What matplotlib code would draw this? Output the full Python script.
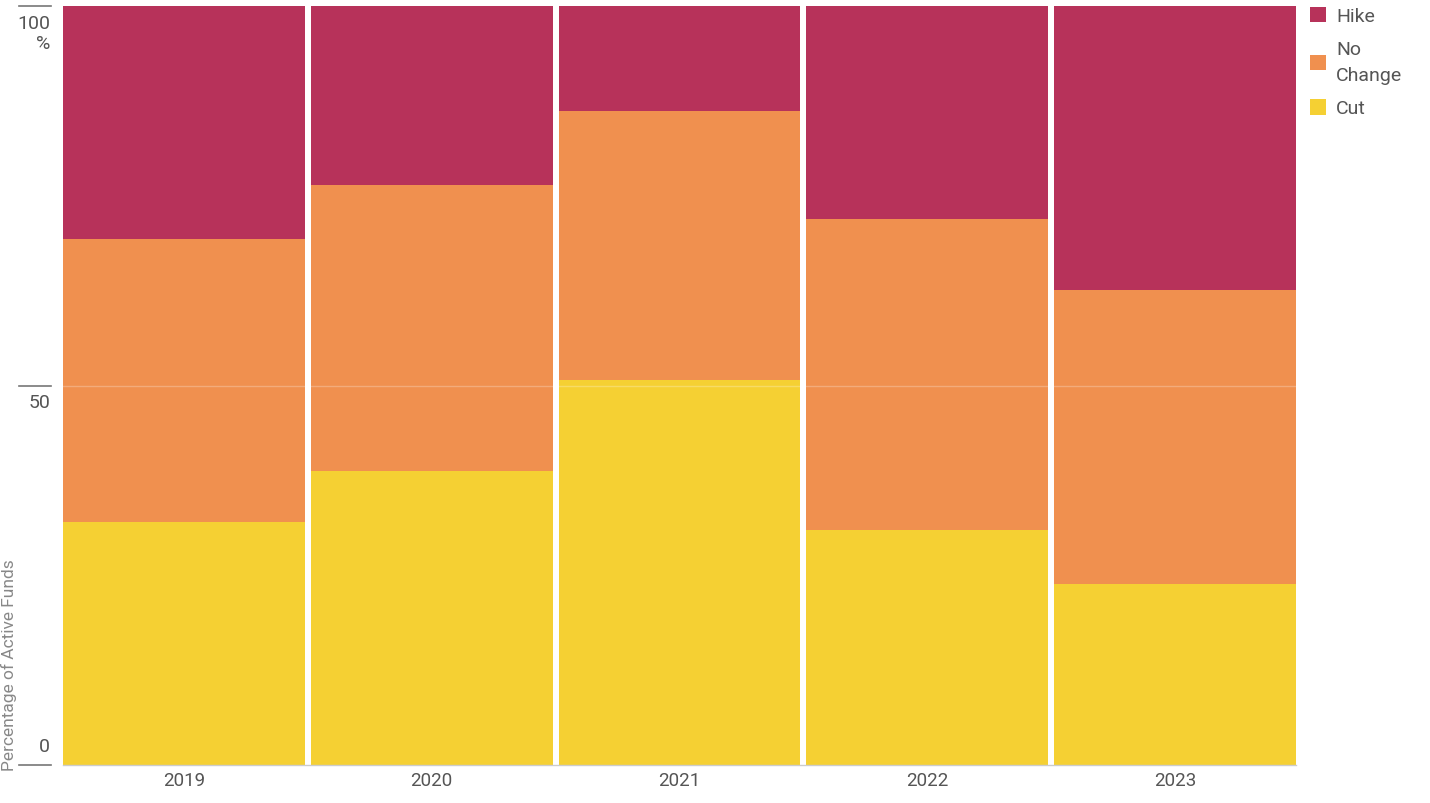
import numpy as np
import matplotlib.pyplot as plt
from matplotlib.transforms import blended_transform_factory

plt.rcParams['font.family'] = ['Roboto', 'DejaVu Sans']

years = ['2019', '2020', '2021', '2022', '2023']
cut = [32.0, 38.7, 50.7, 31.0, 23.8]
no_change = [37.3, 37.7, 35.5, 40.9, 38.8]
hike = [30.7, 23.6, 13.8, 28.1, 37.4]

colors = {'Hike': '#B7325A', 'No\nChange': '#F0904F', 'Cut': '#F5D033'}
text_col = '#555555'

fig = plt.figure(figsize=(14.3, 8.04), dpi=100)
ax = fig.add_axes([63/1430, 1-766/804, (1296-63)/1430, (766-7)/804])

x = np.arange(len(years))
w = 0.976
b1 = ax.bar(x, cut, w, color=colors['Cut'], label='Cut')
b2 = ax.bar(x, no_change, w, bottom=cut, color=colors['No\nChange'], label='No\nChange')
bottom2 = np.array(cut) + np.array(no_change)
b3 = ax.bar(x, hike, w, bottom=bottom2, color=colors['Hike'], label='Hike')

ax.set_xlim(-w/2, len(years) - 1 + w/2)
ax.set_ylim(0, 100)
ax.axhline(50, color='white', alpha=0.25, lw=1, zorder=3)

for s in ['top', 'right', 'left']:
    ax.spines[s].set_visible(False)
ax.spines['bottom'].set_color('#cccccc')
ax.spines['bottom'].set_linewidth(1)

ax.set_xticks(x)
ax.set_xticklabels(years, fontsize=13.5, color=text_col)
ax.tick_params(axis='x', length=0, pad=4)
ax.set_yticks([])

# y ticks drawn as short lines with labels
tr = blended_transform_factory(ax.transAxes, ax.transData)
for v, lab, va, dy in [(100, '100\n%', 'top', -1.0), (50, '50', 'top', -1.0), (0, '0', 'bottom', 1.3)]:
    ax.plot([-0.0357, -0.0097], [v, v], color='#777777', lw=1.2,
            transform=tr, clip_on=False)
    ax.text(-0.0105, v + dy, lab, transform=tr, ha='right', va=va,
            fontsize=14, color=text_col, linespacing=1.2)

fig.text(0.0007, 1-665/804, 'Percentage of Active Funds', rotation=90,
         ha='left', va='center', fontsize=12.5, color='#888888')

leg = ax.legend(handles=[b3, b2, b1], loc='upper left', bbox_to_anchor=(1.005, 1.009),
                frameon=False, fontsize=14, handlelength=0.85, handleheight=0.85,
                handletextpad=0.5, labelspacing=0.75, labelcolor=text_col,
                borderaxespad=0)
for t in leg.get_texts():
    t.set_linespacing(1.6)

fig.savefig('out.png', dpi=100)
